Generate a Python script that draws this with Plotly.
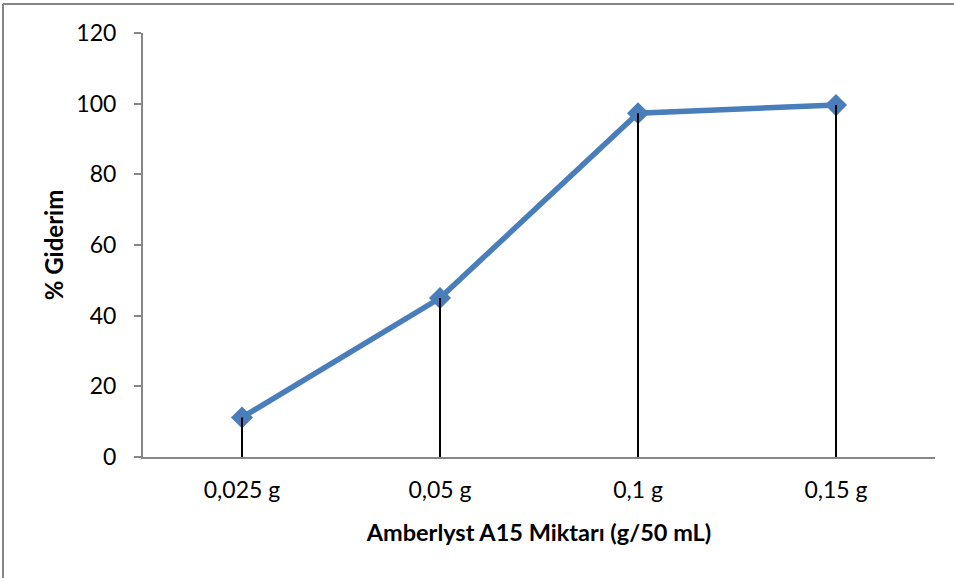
import plotly.graph_objects as go

# Adsorbent dose vs. removal percentage
doses = ["0,025 g", "0,05 g", "0,1 g", "0,15 g"]
removal = [11.2, 45.0, 97.3, 99.6]

y_ticks = [0, 20, 40, 60, 80, 100, 120]

FONT = "Lato, 'Open Sans', sans-serif"
BLUE = "#4a7ebb"
AXIS_GREY = "#868686"

# vertical drop lines from the baseline to each point
drop_x, drop_y = [], []
for d, v in zip(doses, removal):
    drop_x += [d, d, None]
    drop_y += [0, v, None]

fig = go.Figure()
fig.add_trace(go.Scatter(
    x=doses, y=removal, mode="lines+markers",
    line=dict(color=BLUE, width=5.5),
    marker=dict(symbol="diamond", size=17, color=BLUE),
    showlegend=False, hoverinfo="skip",
))
fig.add_trace(go.Scatter(
    x=drop_x, y=drop_y, mode="lines",
    line=dict(color="black", width=2),
    showlegend=False, hoverinfo="skip",
))

fig.update_layout(
    width=954, height=578,
    margin=dict(l=143, r=19, t=33, b=121),
    paper_bgcolor="white", plot_bgcolor="white",
    font=dict(family=FONT, size=23, color="black"),
    xaxis=dict(
        type="category", range=[-0.5, 3.5],
        showgrid=False, zeroline=False,
        showline=True, linecolor=AXIS_GREY, linewidth=2,
        ticks="", tickfont=dict(size=23),
        ticklabelstandoff=11,
        title=dict(text="<b>Amberlyst A15 Miktarı (g/50 mL)</b>",
                   font=dict(size=23.5), standoff=23),
    ),
    yaxis=dict(
        range=[0, 120], tickvals=y_ticks,
        showgrid=False, zeroline=False,
        showline=True, linecolor=AXIS_GREY, linewidth=2,
        ticks="outside", ticklen=7, tickcolor=AXIS_GREY, tickwidth=2,
        tickfont=dict(size=23), ticklabelstandoff=13,
        title=dict(text="<b>% Giderim</b>", font=dict(size=24), standoff=6),
    ),
)

# outer chart frame (left and top edges)
fig.add_shape(type="line", xref="paper", yref="paper",
              x0=-140 / 792, x1=-140 / 792, y0=-121 / 424 - 0.1, y1=1 + 29 / 424,
              line=dict(color=AXIS_GREY, width=2))
fig.add_shape(type="line", xref="paper", yref="paper",
              x0=-140 / 792, x1=1 + 30 / 792, y0=1 + 29 / 424, y1=1 + 29 / 424,
              line=dict(color=AXIS_GREY, width=2))

fig.write_html("out.html")
